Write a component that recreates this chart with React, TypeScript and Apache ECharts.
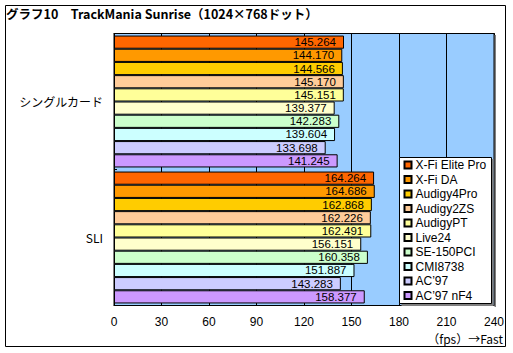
import React, { useEffect, useRef } from "react";
import * as echarts from "echarts";

const categories = ["シングルカード", "SLI"];
const cards = [
  "X-Fi Elite Pro",
  "X-Fi DA",
  "Audigy4Pro",
  "Audigy2ZS",
  "AudigyPT",
  "Live24",
  "SE-150PCI",
  "CMI8738",
  "AC’97",
  "AC’97 nF4",
];
const singleValues = [145.264, 144.17, 144.566, 145.17, 145.151, 139.377, 142.283, 139.604, 133.698, 141.245];
const sliValues = [164.264, 164.686, 162.868, 162.226, 162.491, 156.151, 160.358, 151.887, 143.283, 158.377];
const colors = ["#FF6600", "#FF9900", "#FFCC00", "#FFCC99", "#FFFF99", "#FFFFCC", "#CCFFCC", "#CCFFFF", "#CCCCFF", "#CC99FF"];
const xTicks = { min: 0, max: 240, interval: 30 };

const FONT = "'Noto Sans CJK JP', 'Liberation Sans', sans-serif";
const LATIN = "'Liberation Sans', Arial, sans-serif";

export default function App() {
  const ref = useRef<HTMLDivElement>(null);
  useEffect(() => {
    if (!ref.current) return;
    const chart = echarts.init(ref.current, null, { renderer: "svg" });
    const series = cards.map((name, i) => ({
      name,
      type: "bar",
      data: [singleValues[i], sliValues[i]],
      barGap: "0%",
      barCategoryGap: "3%",
      itemStyle: { color: colors[i], borderColor: "#000", borderWidth: 1 },
      label: {
        show: true,
        position: "insideRight",
        distance: 8,
        color: "#000",
        fontSize: 11.5,
        lineHeight: 12,
        fontFamily: LATIN,
        formatter: (p: any) => Number(p.value).toFixed(3),
      },
    }));
    chart.setOption({
      animation: false,
      textStyle: { fontFamily: FONT },
      title: {
        text: "グラフ10　TrackMania Sunrise（1024×768ドット）",
        left: 6,
        top: 7,
        padding: 0,
        textStyle: { fontSize: 12.5, fontWeight: "bold", color: "#000", fontFamily: FONT, lineHeight: 13 },
      },
      grid: {
        left: 114,
        top: 33.5,
        width: 380,
        height: 272,
        show: true,
        backgroundColor: "#99CCFF",
        borderColor: "#000",
        borderWidth: 1,
      },
      legend: {
        orient: "vertical",
        left: 403.5,
        top: 159,
        padding: 0,
        itemWidth: 7,
        itemHeight: 7,
        itemGap: 2.5,
        icon: "rect",
        z: 10,
        textStyle: { fontSize: 12, lineHeight: 12, color: "#000", fontFamily: LATIN, padding: [0, 0, 0, -1] },
        data: cards,
      },
      xAxis: [
        {
          type: "value",
          ...xTicks,
          position: "bottom",
          axisLine: { show: true, lineStyle: { color: "#000" } },
          axisTick: { show: true, inside: true, length: 4, lineStyle: { color: "#000" } },
          axisLabel: { color: "#000", fontSize: 12, lineHeight: 12, margin: 10, fontFamily: LATIN },
          splitLine: { show: true, lineStyle: { color: "#000", width: 1 } },
        },
        {
          type: "value",
          ...xTicks,
          position: "top",
          axisLine: { show: true, lineStyle: { color: "#000" } },
          axisTick: { show: true, inside: true, length: 4, lineStyle: { color: "#000" } },
          axisLabel: { show: false },
          splitLine: { show: false },
        },
      ],
      yAxis: {
        type: "category",
        data: categories,
        inverse: true,
        axisLine: { show: true, lineStyle: { color: "#000" } },
        axisTick: { show: true, inside: true, length: 3, lineStyle: { color: "#000" } },
        axisLabel: { color: "#000", fontSize: 12, lineHeight: 12, margin: 11, fontFamily: FONT },
      },
      series,
      graphic: [
        {
          type: "rect",
          shape: { x: 5.5, y: 5.5, width: 500, height: 341 },
          style: { fill: "none", stroke: "#000", lineWidth: 1 },
          silent: true,
        },
        {
          type: "rect",
          z: 5,
          shape: { x: 494.5, y: 35, width: 1.5, height: 272 },
          style: { fill: "#808080" },
          silent: true,
        },
        {
          type: "rect",
          z: 6,
          shape: { x: 401.5, y: 159, width: 92, height: 147 },
          style: { fill: "#808080" },
          silent: true,
        },
        {
          type: "rect",
          z: 7,
          shape: { x: 399.5, y: 157.5, width: 92, height: 146 },
          style: { fill: "#fff", stroke: "#000", lineWidth: 1 },
          silent: true,
        },
        {
          type: "text",
          right: 10,
          top: 332,
          style: { text: "（fps）→Fast", fill: "#000", fontSize: 12, fontFamily: FONT },
        },
      ],
    });
    return () => chart.dispose();
  }, []);
  return <div ref={ref} style={{ width: 513, height: 353, position: "absolute", left: 0, top: 0 }} />;
}
